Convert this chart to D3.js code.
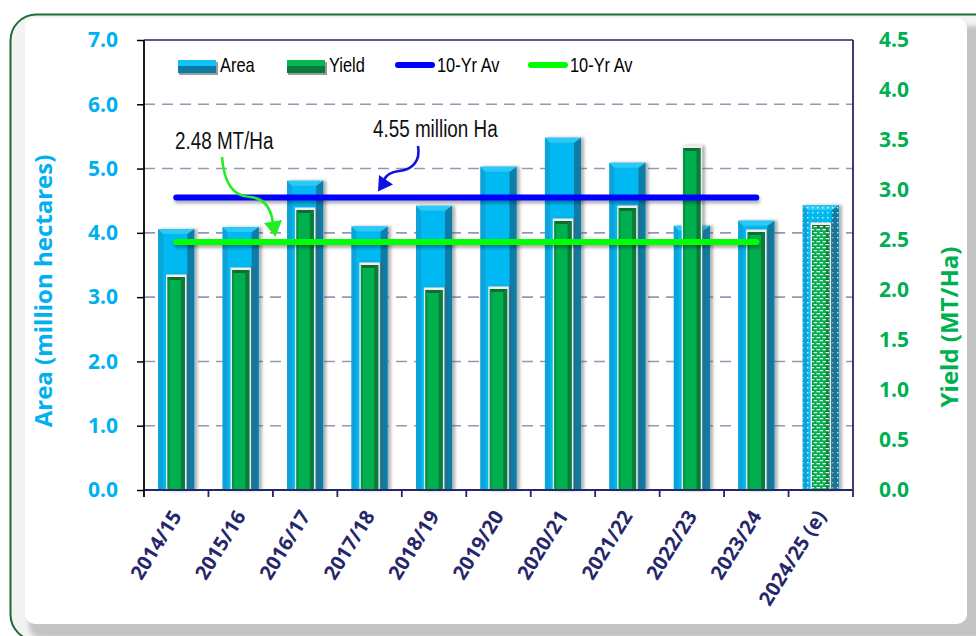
<!DOCTYPE html>
<html>
<head>
<meta charset="utf-8">
<script src="https://cdn.jsdelivr.net/npm/d3@7"></script>
<style>
  html, body { margin: 0; padding: 0; background: #ffffff; }
  svg { display: block; }
</style>
</head>
<body>
<svg id="chart" width="976" height="636"></svg>
<script>
// Seasons shown on the x axis
const seasons = ["2014/15", "2015/16", "2016/17", "2017/18", "2018/19", "2019/20",
                 "2020/21", "2021/22", "2022/23", "2023/24", "2024/25 (e)"];
// Harvested area, million hectares
const areaValues = [4.06, 4.09, 4.81, 4.10, 4.42, 5.03, 5.48, 5.09, 4.11, 4.19, 4.43];
// Yield, MT/Ha
const yieldValues = [2.13, 2.20, 2.80, 2.25, 2.00, 2.01, 2.69, 2.82, 3.42, 2.58, 2.65];
// Ten-year averages and the seasons they cover
const areaAverage = 4.55;
const yieldAverage = 2.48;
const averageSeasons = seasons.slice(0, 10);
const estimateSeason = "2024/25 (e)";
// Axis ticks
const areaTicks = [0, 1, 2, 3, 4, 5, 6, 7];
const yieldTicks = [0, 0.5, 1, 1.5, 2, 2.5, 3, 3.5, 4, 4.5];
// Annotation texts
const areaAverageLabel = "4.55 million Ha";
const yieldAverageLabel = "2.48 MT/Ha";
const legendItems = [
  { key: "area", label: "Area" },
  { key: "yield", label: "Yield" },
  { key: "areaAvg", label: "10-Yr Av" },
  { key: "yieldAvg", label: "10-Yr Av" }
];

const svg = d3.select("#chart");
const plot = { left: 144, right: 853, top: 40, bottom: 490 };

const NAVY = "#26266a";
const AREA_C = { face: "#03b9f2", left: "#0ea2d8", right: "#0b7ba6", top: "#2cc9f6" };
const YIELD_C = { face: "#00b050", left: "#0a8e42", right: "#0a7a39", top: "#0b6e33" };
const SANS = "'Liberation Sans', Arial, sans-serif";
const BOLDF = "'Open Sans', 'Noto Sans', sans-serif";

// condensed text: regular sans squeezed horizontally
function narrowText(g, x0, y0, str, size) {
  return g.append("text")
    .attr("transform", `translate(${x0},${y0}) scale(0.82,1)`)
    .attr("font-family", SANS).attr("font-size", size).attr("fill", "#111")
    .text(str);
}

// ---------- defs ----------
const defs = svg.append("defs");
const sh = defs.append("filter").attr("id", "barShadow").attr("x", "-30%").attr("y", "-10%").attr("width", "160%").attr("height", "120%");
sh.append("feDropShadow").attr("dx", 3).attr("dy", 0).attr("stdDeviation", 1.4)
  .attr("flood-color", "#555").attr("flood-opacity", 0.45);
const lsh = defs.append("filter").attr("id", "lineShadow").attr("filterUnits", "userSpaceOnUse")
  .attr("x", 0).attr("y", 0).attr("width", 976).attr("height", 636);
lsh.append("feDropShadow").attr("dx", 1).attr("dy", 3).attr("stdDeviation", 1.5)
  .attr("flood-color", "#000").attr("flood-opacity", 0.3);
const panelBlur = defs.append("filter").attr("id", "panelBlur");
panelBlur.append("feGaussianBlur").attr("stdDeviation", 2);

const dots = defs.append("pattern").attr("id", "dotPattern").attr("patternUnits", "userSpaceOnUse")
  .attr("width", 5).attr("height", 5);
dots.append("rect").attr("x", 2).attr("y", 2).attr("width", 1.4).attr("height", 1.4).attr("fill", "#ffffff").attr("opacity", 0.85);

const bricks = defs.append("pattern").attr("id", "brickPattern").attr("patternUnits", "userSpaceOnUse")
  .attr("width", 6).attr("height", 6);
[[0.5, 1], [3.5, 4], [-2.5, 4]].forEach(p => {
  bricks.append("rect").attr("x", p[0]).attr("y", p[1]).attr("width", 3.6).attr("height", 1.3)
    .attr("fill", "#ffffff").attr("opacity", 0.9);
});

// ---------- frame ----------
svg.append("rect").attr("x", 10.5).attr("y", 14.5).attr("width", 1000).attr("height", 626)
  .attr("rx", 26).attr("fill", "#f3f3f3").attr("stroke", "#1e6b34").attr("stroke-width", 2);
svg.append("rect").attr("x", 29).attr("y", 26).attr("width", 960).attr("height", 612)
  .attr("rx", 12).attr("fill", "#c4c4c4").attr("filter", "url(#panelBlur)");
svg.append("rect").attr("x", 25).attr("y", 18).attr("width", 942).attr("height", 606)
  .attr("rx", 10).attr("fill", "#ffffff");

// ---------- scales ----------
const x = d3.scaleBand().domain(seasons).range([plot.left, plot.right]).padding(0);
const yArea = d3.scaleLinear().domain([0, 7]).range([plot.bottom, plot.top]);
const yYield = d3.scaleLinear().domain([0, 4.5]).range([plot.bottom, plot.top]);
const cx = d => x(d) + x.bandwidth() / 2;

// ---------- gridlines ----------
svg.append("g").selectAll("line").data(areaTicks.filter(t => t > 0 && t < 7)).join("line")
  .attr("x1", plot.left).attr("x2", plot.right)
  .attr("y1", d => yArea(d)).attr("y2", d => yArea(d))
  .attr("stroke", "#9896b6").attr("stroke-width", 1.6).attr("stroke-dasharray", "11,7");

// ---------- bevelled bar ----------
function bevelBar(g, x0, w, yTop, yBase, c, opts) {
  const x1 = x0 + w, bl = opts.bl, br = opts.br, bt = opts.bt;
  const grp = g.append("g").attr("filter", "url(#barShadow)");
  if (opts.frame) {
    grp.append("rect").attr("x", x0 - 1.5).attr("y", yTop - 2.5).attr("width", w + 3).attr("height", yBase - yTop + 2.5)
      .attr("fill", "#eeeeee");
  }
  grp.append("rect").attr("x", x0).attr("y", yTop).attr("width", w).attr("height", yBase - yTop).attr("fill", c.face);
  grp.append("polygon").attr("points", [[x0, yTop], [x0 + bl, yTop + bt], [x0 + bl, yBase], [x0, yBase]].join(" ")).attr("fill", c.left);
  grp.append("polygon").attr("points", [[x1, yTop], [x1 - br, yTop + bt], [x1 - br, yBase], [x1, yBase]].join(" ")).attr("fill", c.right);
  grp.append("polygon").attr("points", [[x0, yTop], [x1, yTop], [x1 - br, yTop + bt], [x0 + bl, yTop + bt]].join(" ")).attr("fill", c.top);
  if (opts.pattern) {
    grp.append("rect").attr("x", x0).attr("y", yTop).attr("width", w).attr("height", yBase - yTop)
      .attr("fill", `url(#${opts.pattern})`);
  }
}

const areaW = x.bandwidth() * 0.56;
const yieldW = x.bandwidth() * 0.27;
const barsArea = svg.append("g");
seasons.forEach((s, i) => {
  bevelBar(barsArea, cx(s) - areaW / 2, areaW, yArea(areaValues[i]), plot.bottom, AREA_C,
    { bl: 5, br: 7, bt: 5, pattern: s === estimateSeason ? "dotPattern" : null });
});
const barsYield = svg.append("g");
seasons.forEach((s, i) => {
  bevelBar(barsYield, cx(s) - yieldW / 2, yieldW, yYield(yieldValues[i]), plot.bottom, YIELD_C,
    { bl: 2, br: 4, bt: 3, frame: true, pattern: s === estimateSeason ? "brickPattern" : null });
});

// ---------- ten-year average lines ----------
const avgLine = d3.line().x(d => cx(d[0])).y(d => d[1]);
const firstAvg = averageSeasons[0], lastAvg = averageSeasons[averageSeasons.length - 1];
svg.append("path")
  .attr("d", avgLine([[firstAvg, yArea(areaAverage)], [lastAvg, yArea(areaAverage)]]))
  .attr("stroke", "#0000ff").attr("stroke-width", 6).attr("stroke-linecap", "round").attr("fill", "none")
  .attr("filter", "url(#lineShadow)");
svg.append("path")
  .attr("d", avgLine([[firstAvg, yYield(yieldAverage)], [lastAvg, yYield(yieldAverage)]]))
  .attr("stroke", "#00ff00").attr("stroke-width", 6).attr("stroke-linecap", "round").attr("fill", "none")
  .attr("filter", "url(#lineShadow)");

// ---------- callouts ----------
const callouts = svg.append("g");
narrowText(callouts, 175, 149, yieldAverageLabel, 23);
narrowText(callouts, 373, 137, areaAverageLabel, 23);
callouts.append("path").attr("d", "M222,157 C224,182 232,196 250,197 C264,198 271,208 273,223")
  .attr("fill", "none").attr("stroke", "#22ee22").attr("stroke-width", 2.6);
callouts.append("polygon").attr("points", "264,223 282,220 275.5,237").attr("fill", "#22ee22");
callouts.append("path").attr("d", "M418,146 C421,162 411,170 399,171 C391,172 386,175 384,180")
  .attr("fill", "none").attr("stroke", "#1010e0").attr("stroke-width", 2.6);
callouts.append("polygon").attr("points", "379,175 393,184.5 378,191.5").attr("fill", "#1010e0");

// ---------- axes ----------
const leftAxis = svg.append("g").attr("transform", `translate(${plot.left},0)`)
  .call(d3.axisLeft(yArea).tickValues(areaTicks).tickFormat(d3.format(".1f")).tickSize(7).tickPadding(19));
leftAxis.select(".domain").remove();
leftAxis.selectAll(".tick line").attr("stroke", "#000").attr("stroke-width", 1.5);
leftAxis.selectAll("text").attr("fill", "#00b0f0").attr("font-family", BOLDF).attr("font-weight", 700).attr("font-size", 21);

const rightAxis = svg.append("g").attr("transform", `translate(${plot.right},0)`)
  .call(d3.axisRight(yYield).tickValues(yieldTicks).tickFormat(d3.format(".1f")).tickSize(0).tickPadding(26));
rightAxis.select(".domain").remove();
rightAxis.selectAll("text").attr("fill", "#00b050").attr("font-family", BOLDF).attr("font-weight", 700).attr("font-size", 21);

// plot border lines
svg.append("line").attr("x1", plot.left).attr("x2", plot.right).attr("y1", plot.top).attr("y2", plot.top)
  .attr("stroke", NAVY).attr("stroke-width", 1.5);
svg.append("line").attr("x1", plot.right).attr("x2", plot.right).attr("y1", plot.top).attr("y2", plot.bottom + 7)
  .attr("stroke", NAVY).attr("stroke-width", 1.8);
svg.append("line").attr("x1", plot.left).attr("x2", plot.right).attr("y1", plot.bottom).attr("y2", plot.bottom)
  .attr("stroke", NAVY).attr("stroke-width", 2);
svg.append("line").attr("x1", plot.left).attr("x2", plot.left).attr("y1", plot.top).attr("y2", plot.bottom + 7)
  .attr("stroke", "#000").attr("stroke-width", 1.8);

// category boundary ticks
svg.append("g").selectAll("line").data(seasons.slice(1)).join("line")
  .attr("x1", d => x(d)).attr("x2", d => x(d)).attr("y1", plot.bottom).attr("y2", plot.bottom + 7)
  .attr("stroke", NAVY).attr("stroke-width", 1.8);

// rotated season labels
const bottomAxis = svg.append("g").attr("transform", `translate(0,${plot.bottom})`)
  .call(d3.axisBottom(x).tickSize(0).tickPadding(0));
bottomAxis.select(".domain").remove();
bottomAxis.selectAll("text")
  .attr("fill", NAVY).attr("font-family", BOLDF).attr("font-weight", 700).attr("font-size", 20)
  .attr("text-anchor", "end").attr("dy", 0)
  .attr("transform", "translate(6,26) rotate(-58)");

// axis titles
svg.append("text").attr("transform", "translate(52,291) rotate(-90)").attr("text-anchor", "middle")
  .attr("fill", "#00b0f0").attr("font-family", BOLDF).attr("font-weight", 700).attr("font-size", 24)
  .text("Area (million hectares)");
svg.append("text").attr("transform", "translate(958,327) rotate(-90)").attr("text-anchor", "middle")
  .attr("fill", "#00b050").attr("font-family", BOLDF).attr("font-weight", 700).attr("font-size", 24)
  .text("Yield (MT/Ha)");

// ---------- legend ----------
const legendX = [178, 287, 395, 528];
const legend = svg.append("g");
legendItems.forEach((item, i) => {
  const lx = legendX[i];
  if (item.key === "area" || item.key === "yield") {
    const c = item.key === "area" ? AREA_C : YIELD_C;
    const g = legend.append("g");
    g.append("rect").attr("x", lx + 1).attr("y", 62).attr("width", 39).attr("height", 13).attr("fill", "#9a9a9a");
    g.append("rect").attr("x", lx).attr("y", 60).attr("width", 38).attr("height", 13).attr("fill", c.right);
    g.append("rect").attr("x", lx).attr("y", 60).attr("width", 38).attr("height", 6).attr("fill", item.key === "area" ? "#12c2f6" : "#0cb554");
  } else {
    legend.append("line").attr("x1", lx + 3).attr("x2", lx + 37).attr("y1", 65).attr("y2", 65)
      .attr("stroke", item.key === "areaAvg" ? "#0000ff" : "#00ff00").attr("stroke-width", 6).attr("stroke-linecap", "round");
  }
  narrowText(legend, lx + 42, 72, item.label, 20).attr("fill", "#000");
});
</script>
</body>
</html>
